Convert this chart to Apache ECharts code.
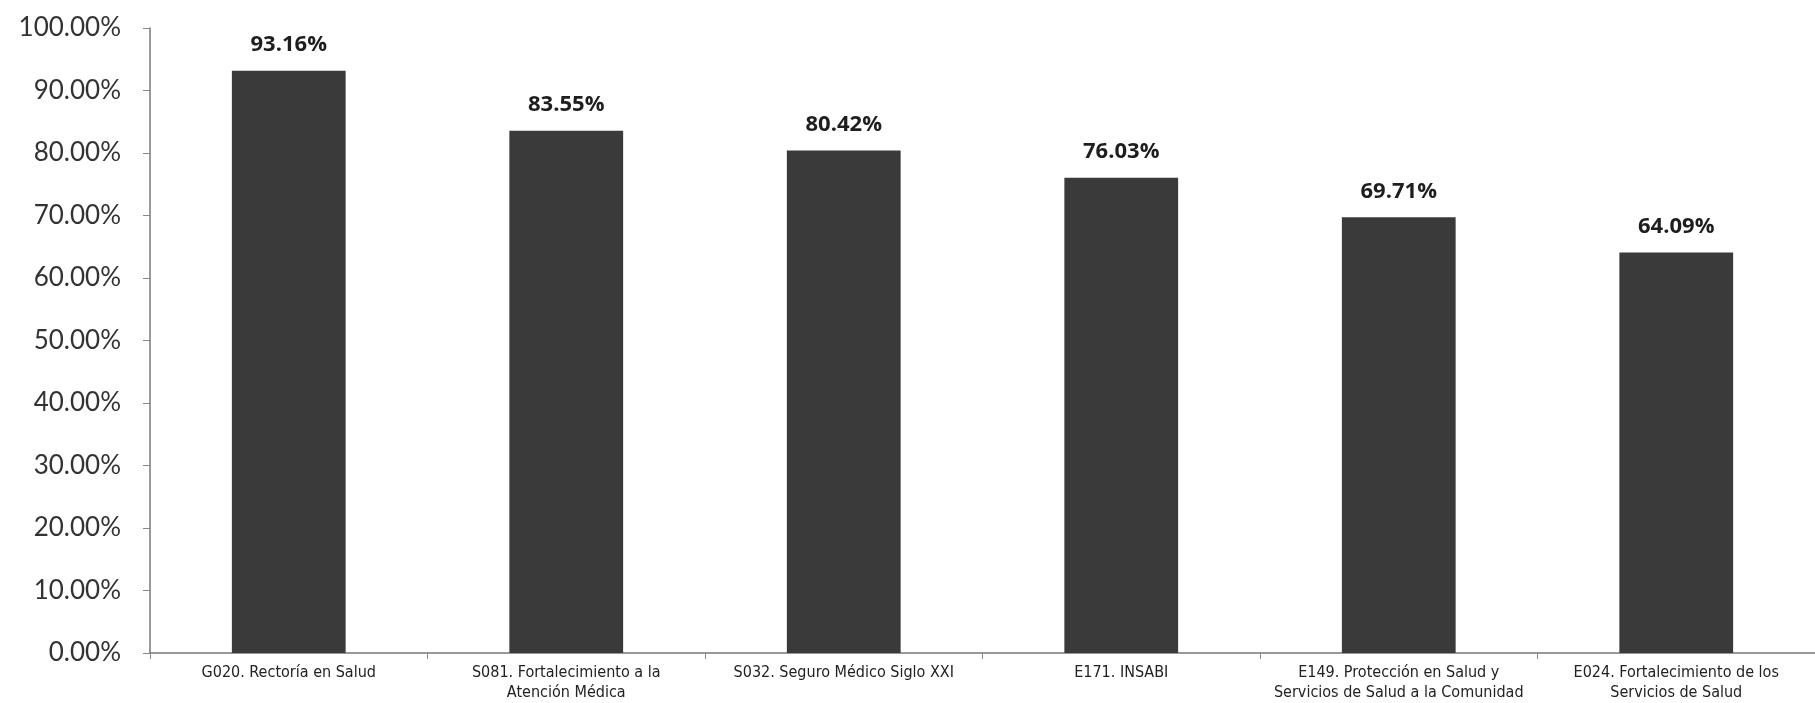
<!DOCTYPE html>
<html>
<head>
<meta charset="utf-8">
<script src="https://cdn.jsdelivr.net/npm/echarts@6/dist/echarts.min.js"></script>
<style>
  html, body { margin: 0; padding: 0; background: #fff; }
  #main { width: 1815px; height: 703px; }
</style>
</head>
<body>
<div id="main"></div>
<script>
// programas y porcentaje de avance
var programas = [
    'G020. Rectoría en Salud',
    'S081. Fortalecimiento a la\nAtención Médica',
    'S032. Seguro Médico Siglo XXI',
    'E171. INSABI',
    'E149. Protección en Salud y\nServicios de Salud a la Comunidad',
    'E024. Fortalecimiento de los\nServicios de Salud'
];
var avance = [93.16, 83.55, 80.42, 76.03, 69.71, 64.09];

var myChart = echarts.init(document.getElementById('main'));
var option = {
    backgroundColor: '#ffffff',
    animation: false,
    grid: {
        left: 150,
        right: 0,
        top: 28,
        bottom: 45
    },
    xAxis: {
        type: 'category',
        data: programas,
        axisLine: { lineStyle: { color: '#777', width: 1.5 } },
        axisTick: { show: true, length: 6, lineStyle: { color: '#888' } },
        axisLabel: {
            color: '#222',
            fontFamily: 'DejaVu Sans Condensed, Liberation Sans Narrow, sans-serif',
            fontSize: 16,
            lineHeight: 20,
            margin: 10,
            interval: 0
        }
    },
    yAxis: {
        type: 'value',
        min: 0,
        max: 100,
        interval: 10,
        splitLine: { show: false },
        axisLine: { show: true, lineStyle: { color: '#777', width: 1.5 } },
        axisTick: { show: true, length: 7, lineStyle: { color: '#888' } },
        axisLabel: {
            color: '#333',
            fontFamily: 'Lato, Open Sans, sans-serif',
            fontSize: 26,
            margin: 29,
            formatter: function (v) { return v.toFixed(2) + '%'; }
        }
    },
    series: [{
        type: 'bar',
        data: avance,
        barWidth: '41%',
        itemStyle: { color: '#3a3a3a' },
        label: {
            show: true,
            position: 'top',
            distance: 15,
            color: '#1e1e1e',
            fontWeight: 'bold',
            fontFamily: 'Open Sans, sans-serif',
            fontSize: 22,
            formatter: function (p) { return p.value.toFixed(2) + '%'; }
        }
    }]
};
myChart.setOption(option);
</script>
</body>
</html>
